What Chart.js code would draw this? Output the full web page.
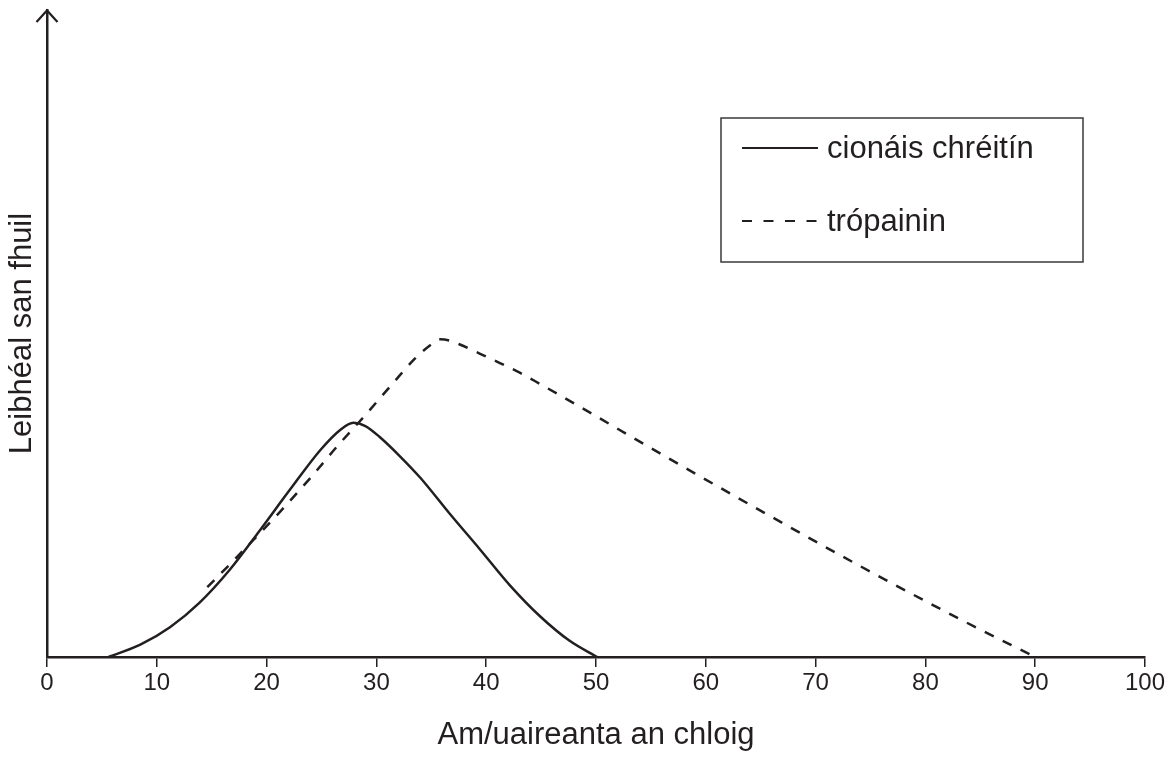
<!DOCTYPE html>
<html>
<head>
<meta charset="utf-8">
<script src="https://cdn.jsdelivr.net/npm/chart.js@4/dist/chart.umd.min.js"></script>
<style>
  html, body { margin: 0; padding: 0; background: #fff; }
  #wrap { width: 1176px; height: 760px; }
</style>
</head>
<body>
<div id="wrap"><canvas id="levelChart" width="1176" height="760"></canvas></div>
<script>
// values (x = hours, y = relative level, no unit on the axis)
const creatineX = [5.6, 8.5, 11.2, 13.9, 16.7, 19.4, 22.1, 24.9, 26.7, 27.9, 29.0, 30.3, 32.1, 34.0, 36.7, 39.4, 42.2, 44.9, 47.6, 50.1];
const creatineY = [0, 1.9, 4.6, 8.4, 13.6, 19.6, 25.8, 32.0, 35.1, 36.2, 35.7, 34.0, 31.1, 27.7, 22.1, 16.7, 11.0, 6.3, 2.5, 0];

const troponinX = [14.6, 16.7, 18.8, 21.2, 24.0, 26.4, 29.0, 31.5, 33.5, 34.9, 35.8, 36.7, 37.6, 39.4, 41.3, 43.1, 44.9, 48.1, 55.8, 64.9, 74.0, 83.2, 90.0];
const troponinY = [10.8, 14.4, 18.1, 22.4, 27.7, 32.5, 37.4, 42.3, 46.1, 48.2, 49.1, 48.9, 48.3, 46.9, 45.4, 43.9, 42.2, 39.1, 31.5, 22.7, 14.1, 5.8, 0];

const xTickValues = [0, 10, 20, 30, 40, 50, 60, 70, 80, 90, 100];
const seriesLabels = ['cionáis chréitín', 'trópainin'];
const xTitle = 'Am/uaireanta an chloig';
const yTitle = 'Leibhéal san fhuil';

const ink = '#231f20';
const fontFamily = '"Liberation Sans", Arial, Helvetica, sans-serif';

function toPoints(xs, ys) {
    return xs.map((x, i) => ({ x: x, y: ys[i] }));
}

// arrow head on top of the y axis
const axisArrow = {
    id: 'axisArrow',
    afterDraw(chart) {
        const ctx = chart.ctx;
        const x = chart.scales.y.right;
        const top = chart.chartArea.top;
        ctx.save();
        ctx.strokeStyle = ink;
        ctx.lineWidth = 2.2;
        ctx.beginPath();
        ctx.moveTo(x - 10.5, top + 12);
        ctx.lineTo(x, top + 0.5);
        ctx.lineTo(x + 10.5, top + 12);
        ctx.stroke();
        ctx.restore();
    }
};

// boxed legend inside the plot, like the printed figure
const boxLegend = {
    id: 'boxLegend',
    afterDraw(chart) {
        const ctx = chart.ctx;
        const box = { left: 721, top: 118, right: 1083, bottom: 262 };
        const rows = [149, 222];
        ctx.save();
        ctx.strokeStyle = '#3a3a3a';
        ctx.lineWidth = 1.5;
        ctx.strokeRect(box.left, box.top, box.right - box.left, box.bottom - box.top);
        chart.data.datasets.forEach((ds, i) => {
            const y = rows[i];
            ctx.strokeStyle = ds.borderColor;
            ctx.lineWidth = 2;
            ctx.setLineDash(ds.borderDash ? [10, 11.5] : []);
            ctx.beginPath();
            ctx.moveTo(742, y - 1);
            ctx.lineTo(818, y - 1);
            ctx.stroke();
            ctx.setLineDash([]);
            ctx.fillStyle = ink;
            ctx.font = '31px ' + fontFamily;
            ctx.textBaseline = 'middle';
            ctx.textAlign = 'left';
            ctx.fillText(ds.label, 827, y);
        });
        ctx.restore();
    }
};

const levelChart = new Chart(document.getElementById('levelChart'), {
    type: 'line',
    data: {
        datasets: [{
            label: seriesLabels[0],
            data: toPoints(creatineX, creatineY),
            borderColor: ink,
            borderWidth: 2.5,
            pointRadius: 0,
            cubicInterpolationMode: 'monotone',
            fill: false
        }, {
            label: seriesLabels[1],
            data: toPoints(troponinX, troponinY),
            borderColor: ink,
            borderWidth: 2.5,
            borderDash: [10, 10],
            pointRadius: 0,
            cubicInterpolationMode: 'monotone',
            fill: false
        }]
    },
    options: {
        responsive: false,
        animation: false,
        layout: { padding: { top: 10, right: 31, left: 0, bottom: 0 } },
        plugins: {
            legend: { display: false },
            tooltip: { enabled: false }
        },
        scales: {
            x: {
                type: 'linear',
                min: 0,
                max: 100,
                afterBuildTicks: (scale) => {
                    scale.ticks = xTickValues.map(v => ({ value: v }));
                },
                afterFit: (scale) => { scale.height = 103; },
                ticks: {
                    color: ink,
                    padding: 2,
                    maxRotation: 0,
                    autoSkip: false,
                    font: { family: fontFamily, size: 24 }
                },
                grid: {
                    display: true,
                    drawOnChartArea: false,
                    drawTicks: true,
                    tickLength: 10,
                    color: ink,
                    lineWidth: 1.5
                },
                border: { display: true, color: ink, width: 2.5 },
                title: {
                    display: true,
                    text: xTitle,
                    color: ink,
                    font: { family: fontFamily, size: 31 },
                    padding: { top: 0, bottom: 6 }
                }
            },
            y: {
                type: 'linear',
                min: 0,
                max: 100,
                afterFit: (scale) => { scale.width = 47; },
                ticks: { display: false },
                grid: { display: false },
                border: { display: true, color: ink, width: 2.5 },
                title: {
                    display: true,
                    text: yTitle,
                    color: ink,
                    font: { family: fontFamily, size: 31 },
                    padding: { top: 4, bottom: 0 }
                }
            }
        }
    },
    plugins: [axisArrow, boxLegend]
});
</script>
</body>
</html>
